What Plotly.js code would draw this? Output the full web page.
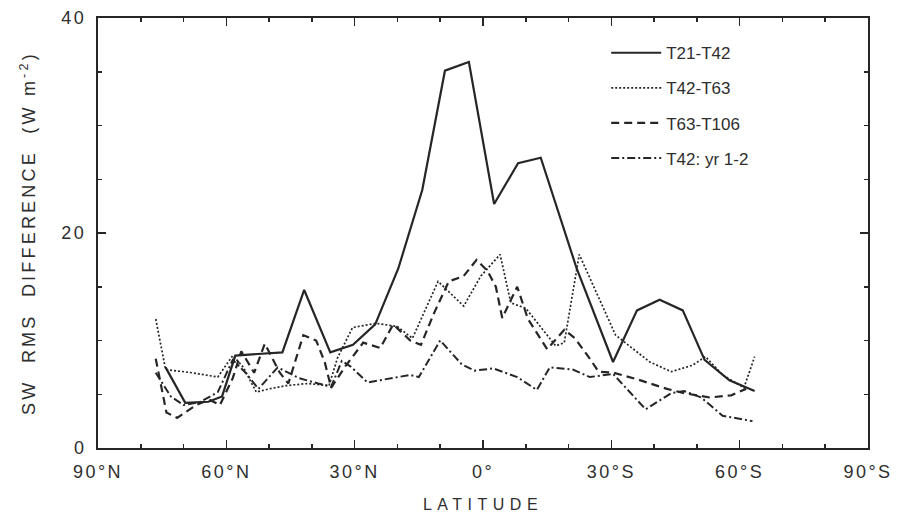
<!DOCTYPE html>
<html><head><meta charset="utf-8">
<script src="https://cdn.plot.ly/plotly-3.0.1.min.js"></script>
<style>
html,body{margin:0;padding:0;background:#fff}#chart{width:900px;height:527px}
#chart .xtick text, #chart .ytick text{letter-spacing:2.5px}
#chart .g-xtitle text{letter-spacing:5.5px}
#chart .g-ytitle text{letter-spacing:3.2px}
</style>
</head><body><div id="chart"></div>
<script>
// Latitude: positive = N, negative = S
var latT21T42 = [74.2, 69.6, 64.2, 61.0, 57.9, 46.9, 41.8, 35.7, 30.4, 25.2, 19.8, 14.2, 8.9, 3.3, -2.6, -8.2, -13.5, -21.9, -30.4, -36.0, -41.3, -46.7, -51.8, -57.6, -63.5];
var valT21T42 = [7.5, 4.2, 4.3, 4.8, 8.6, 8.9, 14.7, 8.9, 9.6, 11.5, 16.7, 24.0, 35.1, 35.9, 22.7, 26.5, 27.0, 16.7, 8.0, 12.8, 13.8, 12.8, 8.2, 6.3, 5.3];

var latT42T63 = [76.5, 74.2, 68, 62, 58.5, 56, 53, 50, 46, 41, 36, 34, 30.5, 25, 20, 16.5, 10.5, 4.5, 0.5, -4, -6.5, -10, -14, -17, -19, -22.5, -31, -39, -44, -49, -52, -56, -61, -63.5];
var valT42T63 = [12.0, 7.3, 7.0, 6.6, 8.6, 7.5, 5.2, 5.5, 5.8, 6.0, 5.8, 8.4, 11.2, 11.6, 11.3, 10.2, 15.5, 13.2, 16.0, 18.0, 13.5, 13.0, 11.0, 9.5, 9.8, 18.0, 10.5, 8.0, 7.1, 7.7, 8.5, 6.8, 5.6, 8.5];

var latT63T106 = [76.5, 74, 71.5, 67, 64, 61.5, 58.5, 56.5, 53.5, 51, 47.5, 45.5, 42, 39, 37, 35.5, 32, 28, 24, 21, 17, 14.5, 11.5, 8, 4.5, 1.5, -1, -3, -4.5, -8, -10.5, -15, -19, -21.5, -25, -27, -30.5, -36, -43, -47, -53, -58, -61.5];
var valT63T106 = [8.3, 3.3, 2.8, 4.0, 4.5, 4.0, 6.5, 9.0, 7.0, 9.7, 7.0, 6.0, 10.5, 10.0, 8.0, 5.6, 7.7, 9.8, 9.3, 11.5, 10.0, 9.6, 12.5, 15.5, 16.0, 17.5, 16.5, 15.0, 12.1, 15.0, 12.0, 9.2, 11.0, 10.2, 8.3, 7.1, 7.0, 6.4, 5.5, 5.1, 4.7, 4.9, 5.5];

var latT42yr = [76.5, 73, 70, 66, 62, 58.5, 55.5, 52.5, 48, 43, 38.5, 35.5, 33, 31, 27, 17, 15, 10, 5, 2, -2.4, -8, -12.6, -15.6, -21, -25, -30.4, -38, -44, -47, -51, -56, -63];
var valT42yr = [7.0, 4.8, 4.0, 4.3, 5.2, 8.2, 7.0, 5.5, 7.5, 6.5, 6.0, 5.7, 8.1, 7.6, 6.1, 6.8, 6.6, 10.0, 7.8, 7.2, 7.4, 6.6, 5.4, 7.5, 7.3, 6.6, 6.9, 3.6, 5.1, 5.3, 4.7, 3.0, 2.5];

var seriesNames = ["T21-T42", "T42-T63", "T63-T106", "T42: yr 1-2"];
var xTickVals = [90, 60, 30, 0, -30, -60, -90];
var xTickText = ["90°N", "60°N", "30°N", "0°", "30°S", "60°S", "90°S"];
var yTickVals = [0, 20, 40];

var ink = "#262626";
function tr(x, y, name, dash, width, grp) {
  return {x: x, y: y, name: name, type: "scatter", mode: "lines",
    legendgroup: grp, line: {color: ink, width: width, dash: dash}};
}
var data = [
  tr(latT21T42, valT21T42, seriesNames[0], "solid", 2.2, "a"),
  tr(latT42T63, valT42T63, seriesNames[1], "2px,2px", 1.7, "b"),
  tr(latT63T106, valT63T106, seriesNames[2], "8px,5px", 2.2, "c"),
  tr(latT42yr, valT42yr, seriesNames[3], "8px,3px,2px,3px", 2, "d")
];
var font = "Liberation Sans, Arial, Helvetica, sans-serif";
var layout = {
  width: 900, height: 527,
  margin: {l: 98, r: 32, t: 18, b: 79},
  paper_bgcolor: "#ffffff", plot_bgcolor: "#ffffff",
  font: {family: font, color: "#2e2e2e", size: 17},
  showlegend: true,
  legend: {x: 0.66, y: 0.96, xanchor: "left", yanchor: "top",
    bgcolor: "rgba(0,0,0,0)", font: {size: 17, color: "#2e2e2e"},
    traceorder: "grouped", tracegroupgap: 10, itemwidth: 50},
  xaxis: {range: [90, -90], tickvals: xTickVals, ticktext: xTickText,
    ticks: "inside", ticklen: 8, tickwidth: 1.5, tickcolor: ink,
    minor: {dtick: 10, tick0: 0, ticks: "inside", ticklen: 4, tickcolor: ink, showgrid: false},
    showgrid: false, zeroline: false, showline: true, linecolor: ink, linewidth: 2, mirror: "ticks",
    tickfont: {size: 18}, ticklabelstandoff: 6,
    title: {text: "LATITUDE", font: {size: 16}, standoff: 18}},
  yaxis: {range: [0, 40], tickvals: yTickVals,
    ticks: "inside", ticklen: 8, tickwidth: 1.5, tickcolor: ink,
    minor: {dtick: 5, tick0: 0, ticks: "inside", ticklen: 4, tickcolor: ink, showgrid: false},
    showgrid: false, zeroline: false, showline: true, linecolor: ink, linewidth: 2, mirror: "ticks",
    tickfont: {size: 18}, ticklabelstandoff: 6,
    title: {text: "SW  RMS  DIFFERENCE  (W m<sup>-2</sup>)", font: {size: 18}, standoff: 26}}
};
Plotly.newPlot("chart", data, layout, {displayModeBar: false, staticPlot: true});
</script></body></html>
